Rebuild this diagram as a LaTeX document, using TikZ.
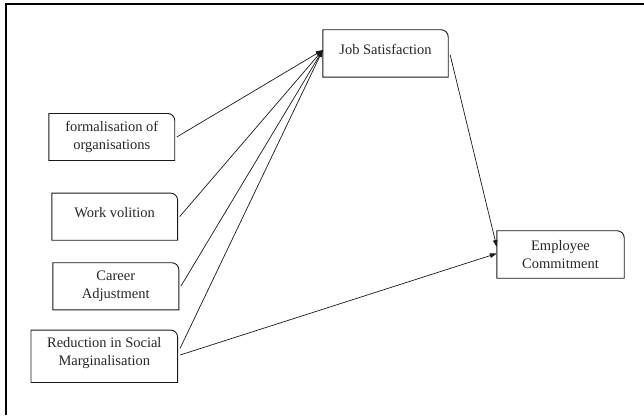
\documentclass[tikz,border=0pt]{standalone}
\usepackage{fontspec}
\setmainfont{Liberation Serif}
\usetikzlibrary{arrows.meta}
\tikzset{
  box/.style={draw=none, minimum width=#1, inner sep=0pt},
  box/.default=125pt,
  txt/.style={align=center, inner sep=0pt, font=\fontsize{14.5}{17.6}\selectfont, text=black!85},
  conn/.style={draw=black!90, line width=0.7pt, -{Triangle[length=7pt,width=4.5pt]}},
  frame/.style={line width=2pt, draw=black},
  outline/.style={draw=black!90, line width=0.9pt}
}
\newcommand{\rbox}[1]{%
  \draw[outline] (#1.south west) -- (#1.north west) -- ([xshift=-7pt]#1.north east)
    to[out=0,in=90] ([yshift=-7pt]#1.north east) -- (#1.south east) -- cycle;}
\begin{document}
\begin{tikzpicture}[x=1pt,y=1pt]
\useasboundingbox (0,0) rectangle (644,415);
% frame (left and top sides)
\draw[frame] (6,0) -- (6,411) -- (644,411);

% boxes
\node[box=125pt, minimum height=47pt] (js) at (385.5,361.5) {};
\node[box=125.5pt, minimum height=46.6pt] (fo) at (111.8,278) {};
\node[box=125.4pt, minimum height=46.7pt] (wv) at (114.7,198.3) {};
\node[box=125.6pt, minimum height=46.7pt] (ca) at (115.8,128.7) {};
\node[box=146.2pt, minimum height=52pt] (rs) at (104.3,58.7) {};
\node[box=127pt, minimum height=47pt] (ec) at (560.5,160.5) {};
\rbox{js}\rbox{fo}\rbox{wv}\rbox{ca}\rbox{rs}\rbox{ec}

% texts
\node[txt] (jst) at (385.5,365.5) {Job Satisfaction};
\node[txt] (fot) at (111.8,278) {formalisation of\\organisations};
\node[txt] (wvt) at (114.7,202.5) {Work volition};
\node[txt] (cat) at (115.8,128.7) {Career\\Adjustment};
\node[txt] (rst) at (104.3,61.7) {Reduction in Social\\Marginalisation};
\node[txt] (ect) at (560.5,160.5) {Employee\\Commitment};

% connectors
\draw[conn] ([xshift=2pt]fo.east) -- ([yshift=3.5pt]js.west);
\draw[conn] ([xshift=2pt]wv.east) -- ([yshift=3.5pt]js.west);
\draw[conn] ([xshift=2pt]ca.east) -- ([yshift=3.5pt]js.west);
\draw[conn] ([xshift=2.5pt,yshift=8pt]rs.east) -- ([yshift=3.5pt]js.west);
\draw[conn] ([xshift=2.5pt,yshift=1.3pt]rs.east) -- ([yshift=1pt]ec.west);
\draw[conn] ([xshift=2pt,yshift=-1.5pt]js.east) -- ([yshift=7.5pt]ec.west);
\end{tikzpicture}
\end{document}
